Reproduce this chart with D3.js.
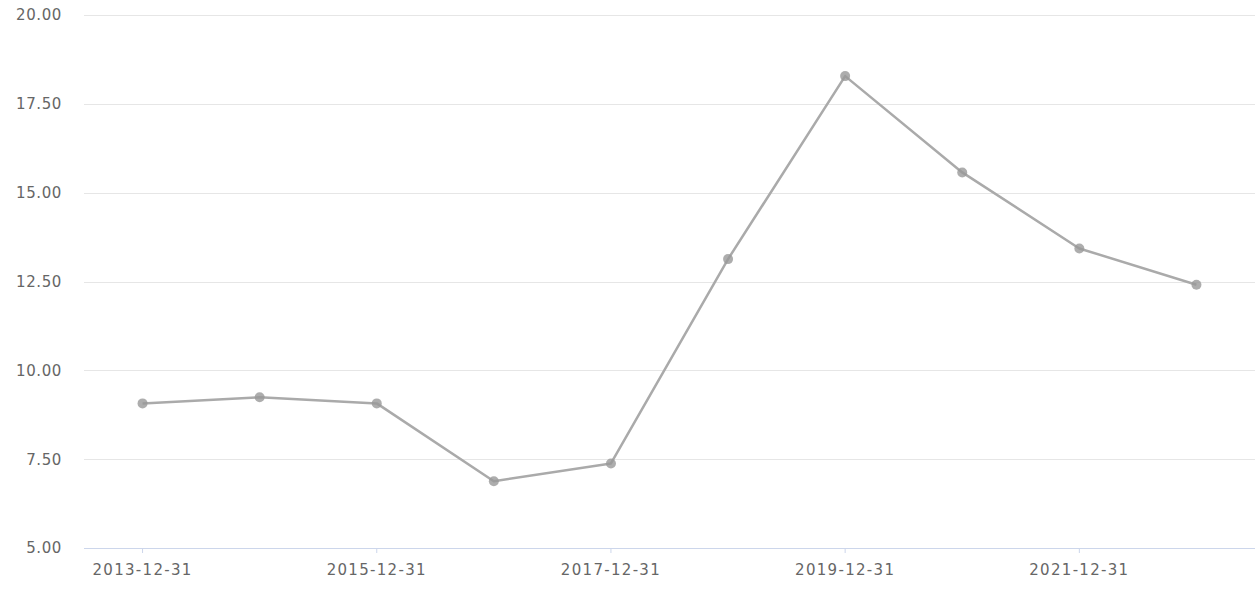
<!DOCTYPE html>
<html><head><meta charset="utf-8">
<script src="https://cdn.jsdelivr.net/npm/d3@7"></script>
<style>body{margin:0;background:#fff;}svg{display:block;font-family:"DejaVu Sans",sans-serif;}</style>
</head><body><svg id="c" width="1260" height="590"></svg>
<script>
const categories = ["2013-12-31","2014-12-31","2015-12-31","2016-12-31","2017-12-31","2018-12-31","2019-12-31","2020-12-31","2021-12-31","2022-12-31"];
const values = [9.07, 9.24, 9.07, 6.88, 7.38, 13.13, 18.28, 15.57, 13.43, 12.41];
const yTicks = [5, 7.5, 10, 12.5, 15, 17.5, 20];
const xLabelCats = ["2013-12-31","2015-12-31","2017-12-31","2019-12-31","2021-12-31"];

(function(){
const svg = d3.select("#c");
const mL = 84, mR = 1255, mT = 15, mB = 548;
const x = d3.scaleBand().domain(categories).range([mL, mR]);
const y = d3.scaleLinear().domain([5, 20]).range([mB, mT]);
const cx = d => x(d) + x.bandwidth() / 2;

// grid
svg.append("g").selectAll("line").data(yTicks.filter(t => t !== 5)).join("line")
  .attr("x1", mL).attr("x2", mR)
  .attr("y1", d => Math.round(y(d)) + 0.5).attr("y2", d => Math.round(y(d)) + 0.5)
  .attr("stroke", "#e6e6e6").attr("stroke-width", 1);

// y labels
svg.append("g").selectAll("text").data(yTicks).join("text")
  .attr("x", 62).attr("y", d => y(d)).attr("dy", "0.36em")
  .attr("text-anchor", "end").attr("fill", "#666").attr("font-size", 15)
  .attr("letter-spacing", 0.6)
  .text(d => d3.format(".2f")(d));

// x axis
const xAxis = d3.axisBottom(x).tickSize(5).tickFormat(d => xLabelCats.includes(d) ? d : "");
const gx = svg.append("g").attr("transform", `translate(0,${mB})`).call(xAxis);
gx.select(".domain").attr("stroke", "#ccd6eb").attr("d", `M${mL},0.5H${mR}`);
gx.selectAll(".tick line").attr("stroke", "#ccd6eb");
gx.selectAll(".tick").filter(d => !xLabelCats.includes(d)).select("line").remove();
gx.selectAll(".tick text").attr("fill", "#666").attr("font-size", 15)
  .attr("font-family", "DejaVu Sans, sans-serif").attr("letter-spacing", 1.3)
  .attr("dy", "0.36em").attr("y", 22);

// line
const line = d3.line().x((d, i) => cx(categories[i])).y(d => y(d));
svg.append("path").datum(values).attr("d", line)
  .attr("fill", "none").attr("stroke", "#aaaaaa").attr("stroke-width", 2.5).attr("stroke-linejoin", "round");

svg.append("g").selectAll("circle").data(values).join("circle")
  .attr("cx", (d, i) => cx(categories[i])).attr("cy", d => y(d)).attr("r", 5)
  .attr("fill", "#999").attr("fill-opacity", 0.8);
})();
</script></body></html>
